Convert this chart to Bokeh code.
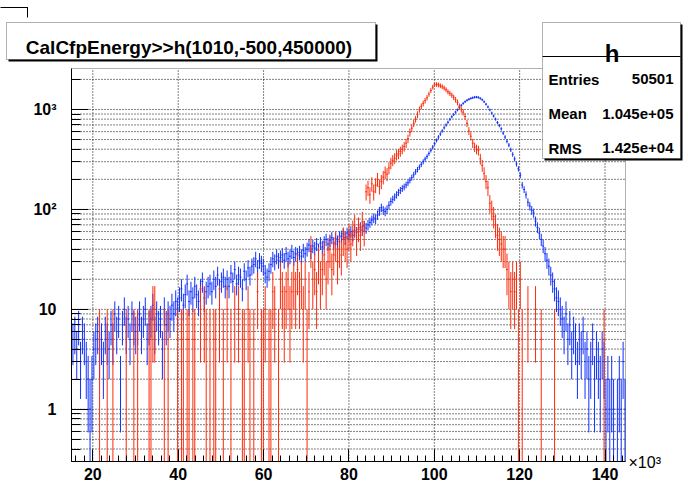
import math
import numpy as np
from bokeh.plotting import figure
from bokeh.models import Range1d, FixedTicker, ColumnDataSource, Label, BoxAnnotation
from bokeh.embed import file_html
from bokeh.resources import INLINE

# ---------------- data ----------------
N_BINS = 1010
H_XMIN, H_XMAX = -500.0, 450000.0
FIRST_BIN = 34          # first histogram bin shown (bins 34..325)
RED_SCALE = 5.0         # red histogram is scaled by 5

blue_counts = (
    [6, 5, 6, 4, 7, 3, 6, 5, 3]
    + [2, 1, 2]
    + [4, 5, 6, 4, 5, 3, 6, 5, 4]
    + [7, 5, 9, 6, 8, 2, 7, 10, 6, 8, 5, 9, 7, 6]
    + [7, 9, 6, 8, 10, 5, 7, 8, 11, 6, 9, 7, 8, 4, 10, 7, 9, 8]
    + [11, 9, 12, 10]
    + [13, 16, 11, 14, 18, 12, 15, 13, 17, 14, 12, 16, 19, 13, 15, 17]
    + [18, 15, 20, 17, 22, 16, 19, 21, 17]
    + [20, 17, 23, 19, 25, 18, 22, 21, 16, 24, 20, 26, 22, 27]
    + [28, 32, 26, 31, 29]
    + [27, 23, 21, 24, 28, 32, 30, 34, 31]
    + [33, 35, 31, 36, 32, 34, 38, 33, 36, 35]
    + [37, 34, 39, 36]
    + [40, 44, 38, 43, 41, 45, 39, 46, 42]
    + [47, 50, 45, 49, 52, 46, 51, 48, 53]
    + [54, 57, 52, 58, 56, 60, 55, 61, 59]
    + [63, 66, 62, 68, 65, 70]
    + [74, 78, 82, 80, 88]
    + [96, 104, 98, 95, 100]
    + [110, 120, 126, 133, 140, 148, 155, 162, 168, 176,
       185, 196, 208, 222, 238, 250, 265, 282, 300, 318,
       338, 362, 390, 420]
    + [455, 490, 530, 568, 610, 655, 700, 745, 795, 845,
       890, 940, 990, 1045, 1100, 1150, 1195, 1235, 1265, 1290,
       1310, 1325, 1330]
    + [1320, 1290, 1250, 1195, 1130, 1060, 990, 920, 860, 800,
       740, 690, 640, 580, 530, 480, 440, 395, 355, 320,
       285, 255, 220, 175, 158, 140, 118, 108, 98, 92,
       76, 66, 58, 50, 43, 36, 31, 27, 22, 19,
       16, 13, 12, 10]
    + [8, 6, 9, 5, 7, 4, 6, 5, 3, 5,
       4, 6, 3, 4, 2, 3, 5, 2, 4, 3,
       2, 4, 3, 1, 2, 1, 2, 1, 0, 1,
       2, 1, 3, 1]
)

red_counts = [
    0, 0, 0, 0, 0, 0, 0, 0, 0, 0,
    0, 0, 0, 0, 0, 1, 0, 0, 0, 1,
    0, 0, 1, 0, 0, 0, 0, 0, 0, 1,
    0, 0, 0, 1, 0, 1, 0, 0, 0, 0,
    0, 1, 1, 2, 2, 0, 0, 0, 0, 1,
    0, 1, 0, 0, 0, 0, 1, 0, 1, 1,
    0, 1, 1, 0, 1, 1, 0, 0, 2, 0,
    2, 1, 0, 1, 0, 1, 1, 0, 2, 0,
    1, 0, 2, 0, 1, 0, 2, 0, 2, 0,
    1, 1, 0, 2, 1, 0, 1, 0, 3, 0,
    1, 1, 2, 0, 1, 1, 3, 2, 0, 1,
    4, 3, 2, 3, 4, 2, 3, 4, 3, 5,
    3, 4, 2, 4, 1, 3, 8, 4, 5, 3,
    6, 4, 5, 7, 4, 6, 8, 5, 7, 9,
    6, 8, 7, 10, 9, 8, 11, 9, 12, 14,
    10, 13, 11, 15, 12, 30, 33, 28, 36, 30,
    35, 40, 34, 38, 42, 47, 45, 52, 58, 62,
    65, 70, 72, 76, 80, 85, 92, 102, 118, 130,
    145, 160, 178, 200, 215, 230, 245, 262, 285, 310,
    335, 355, 356, 352, 346, 338, 328, 315, 300, 290,
    278, 265, 250, 235, 215, 200, 188, 170, 145, 122,
    108, 92, 84, 80, 78, 64, 55, 46, 38, 33,
    23, 20, 17, 14, 11, 10, 9, 8, 8, 5,
    4, 3, 4, 3, 4, 1, 4, 1, 0, 0,
    2, 0, 0, 0, 2, 0, 0, 1, 0, 0,
    0, 0, 0, 0, 1, 0, 0, 0, 0, 0,
    0, 0, 0, 0, 0, 0, 0, 0, 0, 0,
    0, 0, 0, 0, 0, 0, 0, 0, 0, 0,
    1, 0, 0, 0, 0, 0, 0, 0, 0, 0,
    0, 0,
]

x_ticks = [20000, 40000, 60000, 80000, 100000, 120000, 140000]
x_tick_labels = ["20", "40", "60", "80", "100", "120", "140"]
x_minor_step = 2000
y_ticks = [1, 10, 100, 1000]
y_tick_labels = ["1", "10", "10\u00b2", "10\u00b3"]
title_text = "CalCfpEnergy>>h(1010,-500,450000)"
stats_name = "h"
stats_labels = ["Entries", "Mean", "RMS"]
stats_values = ["50501", "1.045e+05", "1.425e+04"]

# axis window of the histogram frame
X_LO, X_HI = 15000.0, 144800.0
Y_LO, Y_HI = 0.30, 2570.0

BLUE = "#1030ff"
RED = "#ff2a0a"
FONT = "Liberation Sans"

# ---------------- layout (pixels) ----------------
W, H = 688, 484
FX0, FX1 = 71, 625      # frame left / right
FY0, FY1 = 68, 461      # frame top / bottom
sx = (X_HI - X_LO) / (FX1 - FX0)
ly = (math.log10(Y_HI) - math.log10(Y_LO)) / (FY1 - FY0)
x_range = Range1d(X_LO - FX0 * sx, X_HI + (W - FX1) * sx)
y_range = Range1d(10 ** (math.log10(Y_LO) - (H - FY1) * ly),
                  10 ** (math.log10(Y_HI) + FY0 * ly))

bin_w = (H_XMAX - H_XMIN) / N_BINS


def err_sources(counts, scale):
    n = np.asarray(counts, dtype=float)
    idx = np.arange(len(n))
    lo = H_XMIN + (FIRST_BIN + idx) * bin_w
    hi = lo + bin_w
    cen = 0.5 * (lo + hi)
    keep = (n > 0) & (cen >= X_LO) & (cen <= X_HI)
    v = n * scale
    e = np.sqrt(n) * scale
    y0 = np.clip(v - e, Y_LO, Y_HI)
    y1 = np.clip(v + e, Y_LO, Y_HI)
    vert = ColumnDataSource(dict(x=cen[keep], y0=y0[keep], y1=y1[keep]))
    hk = keep & (v >= Y_LO)
    horiz = ColumnDataSource(dict(x0=np.clip(lo, X_LO, X_HI)[hk],
                                  x1=np.clip(hi, X_LO, X_HI)[hk], y=v[hk]))
    return vert, horiz


# ---------------- figure ----------------
p = figure(width=W, height=H, x_range=x_range, y_range=y_range,
           y_axis_type="log", output_backend="svg", toolbar_location=None,
           min_border=0, min_border_left=0, min_border_right=0,
           min_border_top=0, min_border_bottom=0)
p.background_fill_color = "white"
p.border_fill_color = "white"
p.outline_line_color = None
p.xgrid.visible = False
p.ygrid.visible = False

x_minor = [v for v in range(16000, 145000, x_minor_step) if v not in x_ticks]
y_minor = ([m / 10 for m in range(3, 10)] + list(range(2, 10))
           + list(range(20, 100, 10)) + list(range(200, 1000, 100)) + [2000])

# dotted grid inside the histogram frame
GRID = dict(line_color="black", line_width=1, line_dash="1 2")
p.segment(x0=x_ticks, x1=x_ticks, y0=[Y_LO] * len(x_ticks),
          y1=[Y_HI] * len(x_ticks), **GRID)
gy = y_ticks + y_minor
p.segment(x0=[X_LO] * len(gy), x1=[X_HI] * len(gy), y0=gy, y1=gy, **GRID)

for counts, scale, color in ((blue_counts, 1.0, BLUE), (red_counts, RED_SCALE, RED)):
    vert, horiz = err_sources(counts, scale)
    p.segment(x0="x", x1="x", y0="y0", y1="y1", source=vert,
              line_color=color, line_width=1)
    p.segment(x0="x0", x1="x1", y0="y", y1="y", source=horiz,
              line_color=color, line_width=1)

# axes drawn on the frame edges
xa, ya = p.xaxis[0], p.yaxis[0]
xa.fixed_location = Y_LO
ya.fixed_location = X_LO
xa.bounds = (X_LO, X_HI)
ya.bounds = (Y_LO, Y_HI)
xa.ticker = FixedTicker(ticks=x_ticks, minor_ticks=x_minor)
ya.ticker = FixedTicker(ticks=y_ticks, minor_ticks=y_minor)
xa.major_label_overrides = dict(zip(x_ticks, x_tick_labels))
ya.major_label_overrides = dict(zip(y_ticks, y_tick_labels))
for ax in (xa, ya):
    ax.axis_line_color = "black"
    ax.major_tick_line_color = "black"
    ax.minor_tick_line_color = "black"
    ax.major_tick_out = 0
    ax.minor_tick_out = 0
    ax.major_label_text_font = FONT
    ax.major_label_text_font_style = "bold"
    ax.major_label_text_color = "black"
    ax.major_label_text_font_size = "16px"
xa.major_tick_in = 12
xa.minor_tick_in = 6
xa.major_label_standoff = 6
ya.major_tick_in = 17
ya.minor_tick_in = 9
ya.major_label_standoff = 15

# frame outline
p.add_layout(BoxAnnotation(left=X_LO, right=X_HI, bottom=Y_LO, top=Y_HI,
                           fill_alpha=0, line_color="black", line_width=1))

# ---------------- panes (canvas coordinates) ----------------
U = dict(left_units="canvas", right_units="canvas",
         top_units="canvas", bottom_units="canvas")


def rect(left, right, top, bottom, fill="black", line=None, alpha=1.0):
    p.add_layout(BoxAnnotation(left=left, right=right, top=top, bottom=bottom,
                               fill_color=fill, fill_alpha=alpha,
                               line_color=line, line_width=1, **U))


def pane(left, right, top, bottom, shadow=2):
    rect(left + shadow, right + shadow, top + shadow, bottom + shadow)
    rect(left, right, top, bottom, fill="white", line="black")


def text(x, y, s, size, align="left", style="bold"):
    p.add_layout(Label(x=x, y=y, x_units="canvas", y_units="canvas", text=s,
                       text_font=FONT, text_font_size=size,
                       text_font_style=style, text_align=align,
                       text_baseline="alphabetic", text_color="black"))


# small corner mark at top left
rect(-2, 27.5, 6.5, 7.5)
rect(26.5, 27.5, 7, 17)

# title pane
pane(6, 375, 22, 59)
text(188.5, 46.5, title_text, "19px", align="center")

# stats pane
pane(542, 680, 22, 158)
rect(542, 680, 55.5, 56.5)
text(611.5, 53, stats_name, "24px", align="center")
for k, (lab, val) in enumerate(zip(stats_labels, stats_values)):
    yy = 78.5 + k * 34.5
    text(548, yy, lab, "15px", align="left")
    text(673, yy, val, "15px", align="right")

# x10^3 exponent next to the x axis
text(628, 462, "\u00d710\u00b3", "16px", align="left", style="normal")

open("out.html", "w").write(file_html(p, INLINE))
